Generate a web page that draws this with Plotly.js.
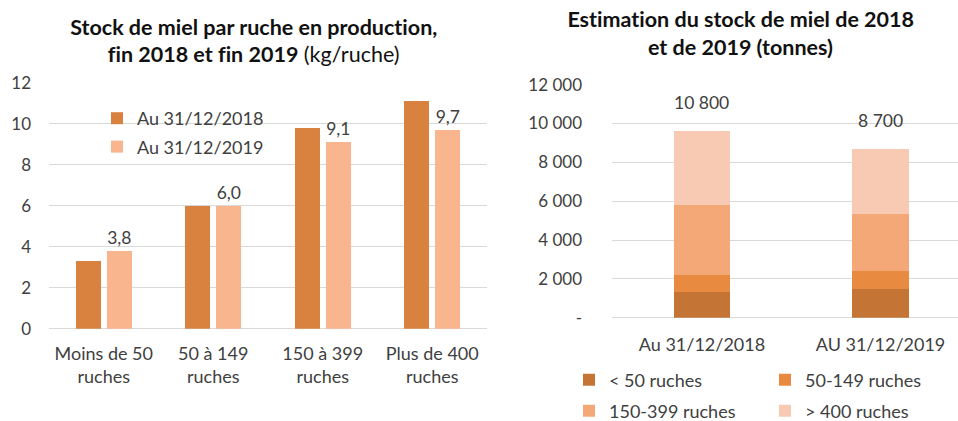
<!DOCTYPE html>
<html>
<head>
<meta charset="utf-8">
<script src="https://cdn.plot.ly/plotly-3.0.1.min.js"></script>
<style>html,body{margin:0;padding:0;background:#fff;}#chart{width:958px;height:421px;}
#chart text{font-variant-ligatures:none;font-feature-settings:"liga" 0, "clig" 0;}</style>
</head>
<body>
<div id="chart"></div>
<script>
// ---- Left chart data (kg/ruche) ----
const categories = ['Moins de 50<br>ruches', '50 à 149<br>ruches', '150 à 399<br>ruches', 'Plus de 400<br>ruches'];
const stock2018 = [3.3, 6.0, 9.8, 11.1];
const stock2019 = [3.8, 6.0, 9.1, 9.7];
const labels2019 = ['3,8', '6,0', '9,1', '9,7'];
const leftTickVals = [0, 2, 4, 6, 8, 10, 12];
const seriesNamesLeft = ['Au 31/12/2018', 'Au 31/12/2019'];

// ---- Right chart data (tonnes) ----
const dates = ['Au 31/12/2018', 'AU 31/12/2019'];
const segLt50 = [1300, 1500];
const seg50_149 = [900, 900];
const seg150_399 = [3600, 2950];
const segGt400 = [3800, 3350];
const totalLabels = ['10 800', '8 700'];
const segNames = ['< 50 ruches', '50-149 ruches', '150-399 ruches', '> 400 ruches'];
const rightTickVals = [0, 2000, 4000, 6000, 8000, 10000, 12000];
const rightTickText = ['-', '2 000', '4 000', '6 000', '8 000', '10 000', '12 000'];

const W = 958, H = 421;
const px = v => v / W;
const py = v => 1 - v / H;
const FONT = 'Lato, "Open Sans", sans-serif';
const TXT = '#404040';
const GRID = '#d9d9d9';

const idx = categories.map((_, i) => i);
const off = 0.1425;

const traces = [
  {type: 'bar', x: idx.map(i => i - off), y: stock2018, name: seriesNamesLeft[0],
   width: 0.229, marker: {color: '#d9823f'}, xaxis: 'x', yaxis: 'y', legend: 'legend',
   legendgroup: 'a', hoverinfo: 'y'},
  {type: 'bar', x: idx.map(i => i + off), y: stock2019, name: seriesNamesLeft[1],
   width: 0.229, marker: {color: '#f8b58e'}, xaxis: 'x', yaxis: 'y', legend: 'legend',
   legendgroup: 'b', text: labels2019, textposition: 'outside', cliponaxis: false,
   textfont: {family: FONT, size: 17.5, color: TXT}, hoverinfo: 'y'},
  {type: 'bar', x: dates, y: segLt50, name: segNames[0], width: 0.314,
   marker: {color: '#c47535'}, xaxis: 'x2', yaxis: 'y2', legend: 'legend2'},
  {type: 'bar', x: dates, y: seg50_149, name: segNames[1], width: 0.314,
   marker: {color: '#e88b40'}, xaxis: 'x2', yaxis: 'y2', legend: 'legend3'},
  {type: 'bar', x: dates, y: seg150_399, name: segNames[2], width: 0.314,
   marker: {color: '#f5a877'}, xaxis: 'x2', yaxis: 'y2', legend: 'legend4'},
  {type: 'bar', x: dates, y: segGt400, name: segNames[3], width: 0.314,
   marker: {color: '#f8cab4'}, xaxis: 'x2', yaxis: 'y2', legend: 'legend5'}
];

const totals = dates.map((_, i) => segLt50[i] + seg50_149[i] + seg150_399[i] + segGt400[i]);

const legendFont = {family: FONT, size: 18, color: TXT};
const mkLegend = (x, y) => ({x: px(x), y: py(y), xanchor: 'left', yanchor: 'middle',
  font: legendFont, bgcolor: 'rgba(0,0,0,0)', borderwidth: 0, orientation: 'h'});

const titleFont = {family: FONT, size: 21.5, color: '#111'};

const layout = {
  width: W, height: H,
  margin: {l: 0, r: 0, t: 0, b: 0, autoexpand: false},
  paper_bgcolor: '#fff', plot_bgcolor: '#fff',
  barmode: 'stack',
  font: {family: FONT, size: 17, color: TXT},
  showlegend: true,
  xaxis: {domain: [px(49), px(487)], range: [-0.5, 3.5], tickvals: idx, ticktext: categories,
          showgrid: false, zeroline: false, showline: false, ticks: '', ticklabelstandoff: 12,
          tickfont: {family: FONT, size: 18, color: TXT}, fixedrange: true},
  yaxis: {domain: [py(328.7), py(82.7)], range: [0, 12], tickvals: leftTickVals,
          showgrid: true, gridcolor: GRID, gridwidth: 1, zeroline: true, zerolinecolor: GRID,
          zerolinewidth: 1, ticks: '', ticklabelstandoff: 17,
          tickfont: {family: FONT, size: 17, color: TXT}, fixedrange: true},
  xaxis2: {domain: [px(612), 1], range: [-0.504, 1.434], type: 'category',
           showgrid: false, zeroline: false, showline: false, ticks: '', ticklabelstandoff: 3,
           tickfont: {family: FONT, size: 18, color: TXT}, fixedrange: true},
  yaxis2: {domain: [py(317.7), py(84.7)], range: [0, 12000], tickvals: rightTickVals,
           ticktext: rightTickText, anchor: 'x2',
           showgrid: true, gridcolor: GRID, gridwidth: 1, zeroline: true, zerolinecolor: GRID,
           zerolinewidth: 1, ticks: '', ticklabelstandoff: 29,
           tickfont: {family: FONT, size: 17, color: TXT}, fixedrange: true},
  legend: {x: px(97), y: py(100), xanchor: 'left', yanchor: 'top', font: legendFont,
           bgcolor: 'rgba(0,0,0,0)', borderwidth: 0, orientation: 'v', tracegroupgap: 2},
  legend2: mkLegend(569, 380),
  legend3: mkLegend(765, 380),
  legend4: mkLegend(569, 411),
  legend5: mkLegend(765, 411),
  annotations: [
    {text: '<b>Stock de miel par ruche en production,</b>', x: px(253), y: py(27),
     xref: 'paper', yref: 'paper', xanchor: 'center', yanchor: 'middle', showarrow: false,
     font: titleFont},
    {text: '<b>fin 2018 et fin 2019</b> (kg/ruche)', x: px(253), y: py(54),
     xref: 'paper', yref: 'paper', xanchor: 'center', yanchor: 'middle', showarrow: false,
     font: titleFont},
    {text: '<b>Estimation du stock de miel de 2018</b>', x: px(740), y: py(19),
     xref: 'paper', yref: 'paper', xanchor: 'center', yanchor: 'middle', showarrow: false,
     font: titleFont},
    {text: '<b>et de 2019 (tonnes)</b>', x: px(740), y: py(47),
     xref: 'paper', yref: 'paper', xanchor: 'center', yanchor: 'middle', showarrow: false,
     font: titleFont}
  ].concat(dates.map((d, i) => ({
     text: totalLabels[i], x: d, y: totals[i], xref: 'x2', yref: 'y2',
     xanchor: 'center', yanchor: 'bottom', yshift: 16, showarrow: false,
     font: {family: FONT, size: 17.5, color: TXT}})))
};

Plotly.newPlot('chart', traces, layout, {displayModeBar: false, staticPlot: true});
</script>
</body>
</html>
